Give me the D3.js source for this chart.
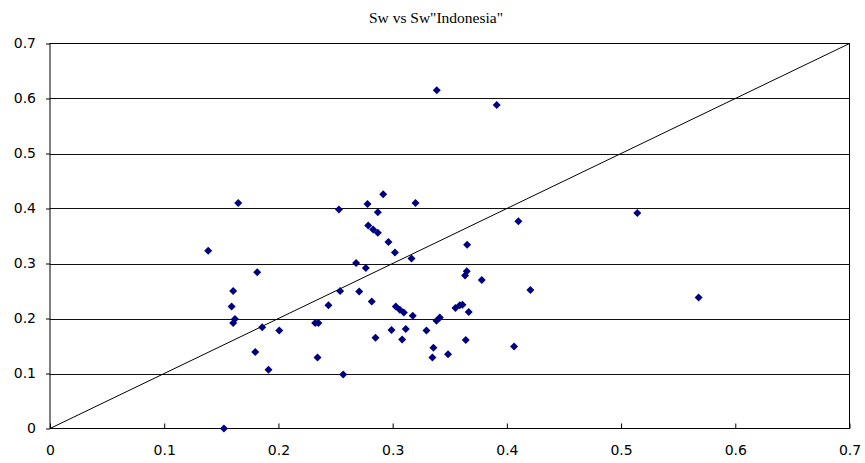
<!DOCTYPE html>
<html>
<head>
<meta charset="utf-8">
<script src="https://cdn.jsdelivr.net/npm/d3@7"></script>
<style>
  html, body { margin: 0; padding: 0; background: #fff; }
  svg { display: block; }
</style>
</head>
<body>
<svg id="chart" width="865" height="463"></svg>
<script>
const chartTitle = 'Sw vs Sw"Indonesia"';
const xTicks = [0, 0.1, 0.2, 0.3, 0.4, 0.5, 0.6, 0.7];
const yTicks = [0, 0.1, 0.2, 0.3, 0.4, 0.5, 0.6, 0.7];
const swValues = [0.1523, 0.1385, 0.1648, 0.1814, 0.1604, 0.1590, 0.1619, 0.1604, 0.1858, 0.2007,
  0.1797, 0.1913, 0.2322, 0.2350, 0.2342, 0.2567, 0.2438, 0.2540, 0.2530, 0.2680,
  0.2707, 0.2765, 0.2786, 0.2780, 0.2817, 0.2829, 0.2870, 0.2870, 0.2917, 0.2963,
  0.3020, 0.3165, 0.3200, 0.3386, 0.3911, 0.3028, 0.3063, 0.3098, 0.3176, 0.2990,
  0.3115, 0.3296, 0.2850, 0.3083, 0.3384, 0.3413, 0.3550, 0.3588, 0.3611, 0.3666,
  0.3649, 0.3634, 0.3652, 0.3780, 0.3640, 0.3357, 0.3348, 0.3485, 0.4063, 0.4101,
  0.4206, 0.5142, 0.5679];
const swIndonesia = [0.000, 0.323, 0.410, 0.284, 0.250, 0.222, 0.199, 0.192, 0.184, 0.178,
  0.139, 0.107, 0.192, 0.192, 0.129, 0.098, 0.224, 0.250, 0.398, 0.301,
  0.249, 0.292, 0.369, 0.408, 0.231, 0.362, 0.356, 0.393, 0.426, 0.339,
  0.320, 0.309, 0.410, 0.615, 0.588, 0.222, 0.216, 0.211, 0.205, 0.179,
  0.181, 0.178, 0.165, 0.162, 0.196, 0.202, 0.219, 0.224, 0.225, 0.212,
  0.286, 0.278, 0.334, 0.270, 0.161, 0.147, 0.129, 0.135, 0.149, 0.377,
  0.252, 0.392, 0.238];
const refLine = [[0, 0], [0.7, 0.7]];

const svg = d3.select('#chart');
const L = 50, R = 849.5, T = 43.5, B = 428.5;
const x = d3.scaleLinear().domain([0, 0.7]).range([L, R]);
const y = d3.scaleLinear().domain([0, 0.7]).range([B, T]);
const labelFont = '"DejaVu Sans", sans-serif';

svg.append('text')
  .attr('x', 436).attr('y', 23)
  .attr('text-anchor', 'middle')
  .attr('font-family', '"Liberation Serif", "Times New Roman", serif')
  .attr('font-size', 15.5)
  .attr('fill', '#000')
  .text(chartTitle);

// gridlines
svg.append('g').selectAll('line').data(yTicks.filter(d => d > 0 && d < 0.7)).join('line')
  .attr('x1', L).attr('x2', R)
  .attr('y1', d => Math.round(y(d)) + 0.5).attr('y2', d => Math.round(y(d)) + 0.5)
  .attr('stroke', '#111').attr('stroke-width', 1);

// y axis (outer ticks)
const yAxis = d3.axisLeft(y).tickValues(yTicks).tickSize(4).tickFormat(d => d === 0 ? '0' : d3.format('.1f')(d));
const gy = svg.append('g').attr('transform', `translate(${L},0)`).call(yAxis);
gy.select('.domain').remove();
gy.selectAll('.tick line').attr('stroke', '#000');
gy.selectAll('.tick text')
  .attr('x', -14)
  .attr('font-family', labelFont).attr('font-size', 14).attr('fill', '#000');

// x axis (inner ticks)
const xAxis = d3.axisBottom(x).tickValues(xTicks).tickSize(-5).tickFormat(d => d === 0 ? '0' : d3.format('.1f')(d));
const gx = svg.append('g').attr('transform', `translate(0,${B})`).call(xAxis);
gx.select('.domain').remove();
gx.selectAll('.tick line').attr('stroke', '#000');
gx.selectAll('.tick text')
  .attr('y', 17)
  .attr('font-family', labelFont).attr('font-size', 14).attr('fill', '#000');

// frame
svg.append('rect')
  .attr('x', L).attr('y', T).attr('width', R - L).attr('height', B - T)
  .attr('fill', 'none').attr('stroke', '#000').attr('stroke-width', 1);

// y = x reference line
svg.append('path')
  .datum(refLine)
  .attr('d', d3.line().x(d => x(d[0])).y(d => y(d[1])))
  .attr('stroke', '#000').attr('stroke-width', 1).attr('fill', 'none');

// diamonds
const pts = swValues.map((v, i) => [v, swIndonesia[i]]);
svg.append('g').selectAll('path').data(pts).join('path')
  .attr('transform', d => `translate(${x(d[0])},${y(d[1])})`)
  .attr('d', 'M0,-4L4,0L0,4L-4,0Z')
  .attr('fill', '#000080');
</script>
</body>
</html>
